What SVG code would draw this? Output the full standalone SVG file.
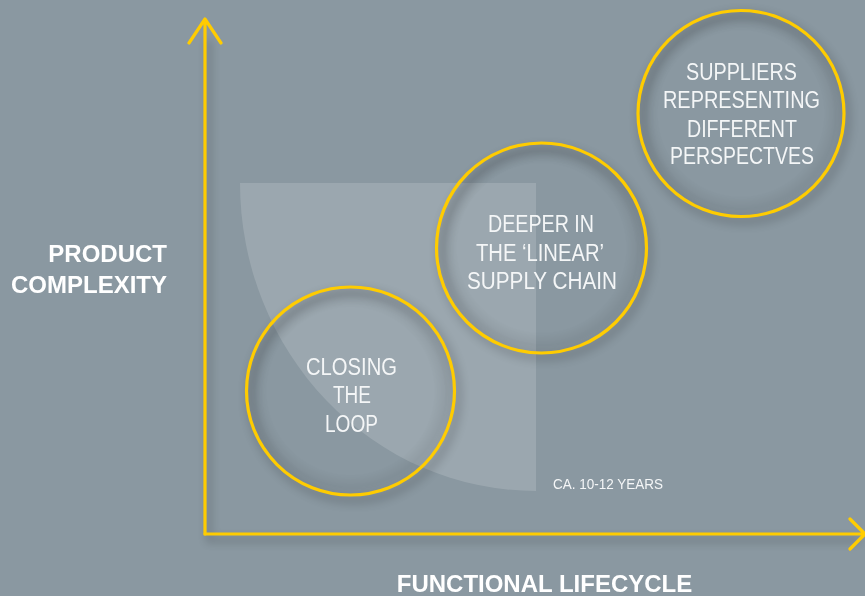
<svg xmlns="http://www.w3.org/2000/svg" width="865" height="596" viewBox="0 0 865 596">
  <defs>
    <style>
      .axis { fill: none; stroke: #FFCC00; stroke-width: 3.2; stroke-linecap: round; stroke-linejoin: round; }
      .ring { fill: url(#inner); stroke: #FFCC00; stroke-width: 3.2; }
      .lbl { font-family: "Liberation Sans", Arial, sans-serif; font-size: 23px; fill: #F4F6F7; text-anchor: middle; }
      .axlbl { font-family: "Liberation Sans", Arial, sans-serif; font-size: 24px; font-weight: bold; fill: #FFFFFF; }
      .small { font-family: "Liberation Sans", Arial, sans-serif; font-size: 14px; fill: #F4F6F7; }
    </style>
    <radialGradient id="inner" cx="0.5" cy="0.5" r="0.5">
      <stop offset="0" stop-color="#000" stop-opacity="0"/>
      <stop offset="0.8" stop-color="#000" stop-opacity="0"/>
      <stop offset="0.92" stop-color="#000" stop-opacity="0.06"/>
      <stop offset="1" stop-color="#000" stop-opacity="0.02"/>
    </radialGradient>
    <filter id="soft" x="-20%" y="-20%" width="140%" height="140%">
      <feGaussianBlur stdDeviation="5"/>
    </filter>
    <filter id="axshadow" x="-5%" y="-5%" width="110%" height="110%">
      <feGaussianBlur stdDeviation="4"/>
    </filter>
  </defs>

  <rect width="865" height="596" fill="#8A98A1"/>

  <path id="lifecycle-zone" d="M240,183 H536 V491 A296,308 0 0 1 240,183 Z" fill="#FFFFFF" fill-opacity="0.15"/>

  <g id="shadows" opacity="0.16">
    <circle cx="354" cy="396" r="104" fill="none" stroke="#000" stroke-width="8" filter="url(#soft)"/>
    <circle cx="545" cy="253" r="104" fill="none" stroke="#000" stroke-width="8" filter="url(#soft)"/>
    <circle cx="744" cy="118" r="103" fill="none" stroke="#000" stroke-width="8" filter="url(#soft)"/>
    <path d="M209,40 V540 H860" fill="none" stroke="#000" stroke-width="6" filter="url(#axshadow)"/>
  </g>

  <g id="connectors">
    <path id="y-axis" class="axis" d="M205,534 V19 M189,43 L205,19 L221,43"/>
    <path id="x-axis" class="axis" d="M205,534 H864 M850,519 L865,534 L850,549"/>
  </g>

  <g id="node-closing-loop">
    <circle class="ring" cx="350.5" cy="391" r="104"/>
    <text class="lbl" x="351.5" y="375" textLength="91" lengthAdjust="spacingAndGlyphs">CLOSING</text>
    <text class="lbl" x="352" y="403" textLength="38" lengthAdjust="spacingAndGlyphs">THE</text>
    <text class="lbl" x="351.5" y="432" textLength="53" lengthAdjust="spacingAndGlyphs">LOOP</text>
  </g>

  <g id="node-deeper">
    <circle class="ring" cx="541.5" cy="248" r="105"/>
    <text class="lbl" x="541" y="232" textLength="106" lengthAdjust="spacingAndGlyphs">DEEPER IN</text>
    <text class="lbl" x="540" y="261" textLength="128" lengthAdjust="spacingAndGlyphs">THE ‘LINEAR’</text>
    <text class="lbl" x="542" y="289" textLength="150" lengthAdjust="spacingAndGlyphs">SUPPLY CHAIN</text>
  </g>

  <g id="node-suppliers">
    <circle class="ring" cx="741" cy="113.5" r="103"/>
    <text class="lbl" x="741.5" y="80" textLength="111" lengthAdjust="spacingAndGlyphs">SUPPLIERS</text>
    <text class="lbl" x="741.5" y="108" textLength="157" lengthAdjust="spacingAndGlyphs">REPRESENTING</text>
    <text class="lbl" x="742" y="137" textLength="110" lengthAdjust="spacingAndGlyphs">DIFFERENT</text>
    <text class="lbl" x="742" y="164" textLength="144" lengthAdjust="spacingAndGlyphs">PERSPECTVES</text>
  </g>

  <g id="label-years">
    <text class="small" x="553" y="489" textLength="110" lengthAdjust="spacingAndGlyphs">CA. 10-12 YEARS</text>
  </g>

  <g id="label-y-axis">
    <text class="axlbl" x="167" y="262" text-anchor="end">PRODUCT</text>
    <text class="axlbl" x="167" y="293" text-anchor="end">COMPLEXITY</text>
  </g>

  <g id="label-x-axis">
    <text class="axlbl" x="544.5" y="592" text-anchor="middle">FUNCTIONAL LIFECYCLE</text>
  </g>
</svg>
